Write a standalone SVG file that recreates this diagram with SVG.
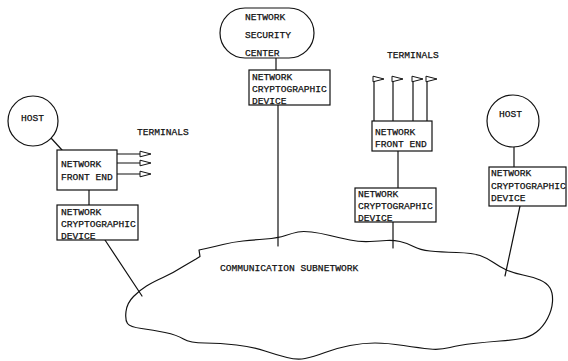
<svg xmlns="http://www.w3.org/2000/svg" width="568" height="361" viewBox="0 0 568 361">
<style>
.s{fill:none;stroke:#111;stroke-width:1.2;stroke-linejoin:round;stroke-linecap:round}
.b{fill:#fff;stroke:#111;stroke-width:1.2}
.t{font-family:"Liberation Mono","Courier New",monospace;font-size:9.6px;fill:#111;stroke:#111;stroke-width:0.25}
</style>
<defs>
<path id="tri" d="M0,-2.8 L11,0 L0,2.8 Z" fill="#fff" stroke="#111" stroke-width="1"/>
</defs>
<rect width="568" height="361" fill="#fff"/>
<g id="connectors">
<line class="s" x1="51" y1="138" x2="62" y2="150"/>
<line class="s" x1="89" y1="190" x2="89" y2="205"/>
<line class="s" x1="105" y1="240" x2="142" y2="296"/>
<line class="s" x1="117" y1="154" x2="140" y2="154"/>
<line class="s" x1="117" y1="163" x2="140" y2="163"/>
<line class="s" x1="117" y1="174" x2="140" y2="174"/>
<use href="#tri" x="140" y="154"/>
<use href="#tri" x="140" y="163"/>
<use href="#tri" x="140" y="174"/>
<line class="s" x1="276" y1="58" x2="276" y2="70"/>
<line class="s" x1="278" y1="105" x2="278" y2="246"/>
<line class="s" x1="374" y1="80" x2="374" y2="121"/>
<line class="s" x1="393" y1="80" x2="393" y2="121"/>
<line class="s" x1="413" y1="80" x2="413" y2="121"/>
<line class="s" x1="427" y1="80" x2="427" y2="121"/>
<use href="#tri" x="373" y="79"/>
<use href="#tri" x="392" y="79"/>
<use href="#tri" x="412" y="79"/>
<use href="#tri" x="426" y="79"/>
<line class="s" x1="398" y1="151" x2="398" y2="188"/>
<line class="s" x1="393" y1="222" x2="393" y2="248"/>
<line class="s" x1="514" y1="147" x2="514" y2="167"/>
<line class="s" x1="520" y1="206" x2="505" y2="276"/>
</g>
<g id="subnetwork">
<path class="s" d="M199,250 L206,248.5 Q213,247 223,244.5 Q233,242 243,241 Q253,240 265.5,239 Q278,238 285.5,235.5 Q293,233 298,232 Q303,231 311.5,232 Q320,233 330,235.5 Q340,238 350,240 Q360,242 370,241.5 Q380,241 386.5,240.5 Q393,240 400,241.5 Q407,243 413.5,246.5 Q420,250 430,251 Q440,252 456.5,252.5 Q473,253 480,255.5 Q487,258 493.5,262.5 Q500,267 506.5,270 Q513,273 523,275 Q533,277 540,280 Q547,283 550,288 Q553,293 552.5,301.5 Q552,310 547.5,318.5 Q543,327 536.5,332 Q530,337 521.5,338.5 Q513,340 500,341 Q487,342 473.5,343.5 Q460,345 450,347.5 Q440,350 430,349 Q420,348 403.5,345.5 Q387,343 375,343 Q363,343 350,345.5 Q337,348 325,352.5 Q313,357 305,358.5 Q297,360 287,357.5 Q277,355 265,351 Q253,347 236.5,345 Q220,343 205,343 Q190,343 183.5,339 Q177,335 165,332.5 Q153,330 141.5,328.5 Q130,327 127.5,323.5 Q125,320 126,311.5 Q127,303 133.5,296.5 Q140,290 146.5,286 Q153,282 163,277.5 Q173,273 184,266 L196,259 L200,256.5 L199,250"/>
<text class="t" x="220" y="271">COMMUNICATION SUBNETWORK</text>
</g>
<g id="host-left">
<circle class="b" cx="33" cy="121" r="25"/>
<text class="t" x="21" y="121">HOST</text>
</g>
<g id="terminals-left">
<text class="t" x="137" y="135">TERMINALS</text>
</g>
<g id="frontend-left">
<rect class="b" x="57" y="150" width="60" height="40"/>
<text class="t" x="61" y="167">NETWORK</text>
<text class="t" x="61" y="180">FRONT END</text>
</g>
<g id="crypto-left">
<rect class="b" x="57" y="205" width="81" height="35"/>
<text class="t" x="61" y="215">NETWORK</text>
<text class="t" x="61" y="227">CRYPTOGRAPHIC</text>
<text class="t" x="61" y="239">DEVICE</text>
</g>
<g id="security-center">
<rect class="b" x="220" y="8" width="94" height="50" rx="25" ry="25"/>
<text class="t" x="245" y="20">NETWORK</text>
<text class="t" x="245" y="38">SECURITY</text>
<text class="t" x="245" y="56">CENTER</text>
</g>
<g id="crypto-center">
<rect class="b" x="249" y="70" width="81" height="35"/>
<text class="t" x="252" y="80">NETWORK</text>
<text class="t" x="252" y="92">CRYPTOGRAPHIC</text>
<text class="t" x="252" y="104">DEVICE</text>
</g>
<g id="terminals-right">
<text class="t" x="387" y="58">TERMINALS</text>
</g>
<g id="frontend-right">
<rect class="b" x="372" y="121" width="60" height="30"/>
<text class="t" x="375" y="135">NETWORK</text>
<text class="t" x="375" y="147">FRONT END</text>
</g>
<g id="crypto-right">
<rect class="b" x="355" y="188" width="81" height="34"/>
<text class="t" x="358" y="197">NETWORK</text>
<text class="t" x="358" y="209">CRYPTOGRAPHIC</text>
<text class="t" x="358" y="221">DEVICE</text>
</g>
<g id="host-right">
<circle class="b" cx="513" cy="121" r="26"/>
<text class="t" x="499" y="117">HOST</text>
</g>
<g id="crypto-host-right">
<rect class="b" x="489" y="167" width="77" height="39"/>
<text class="t" x="491" y="176">NETWORK</text>
<text class="t" x="491" y="189">CRYPTOGRAPHIC</text>
<text class="t" x="491" y="201">DEVICE</text>
</g>
</svg>
